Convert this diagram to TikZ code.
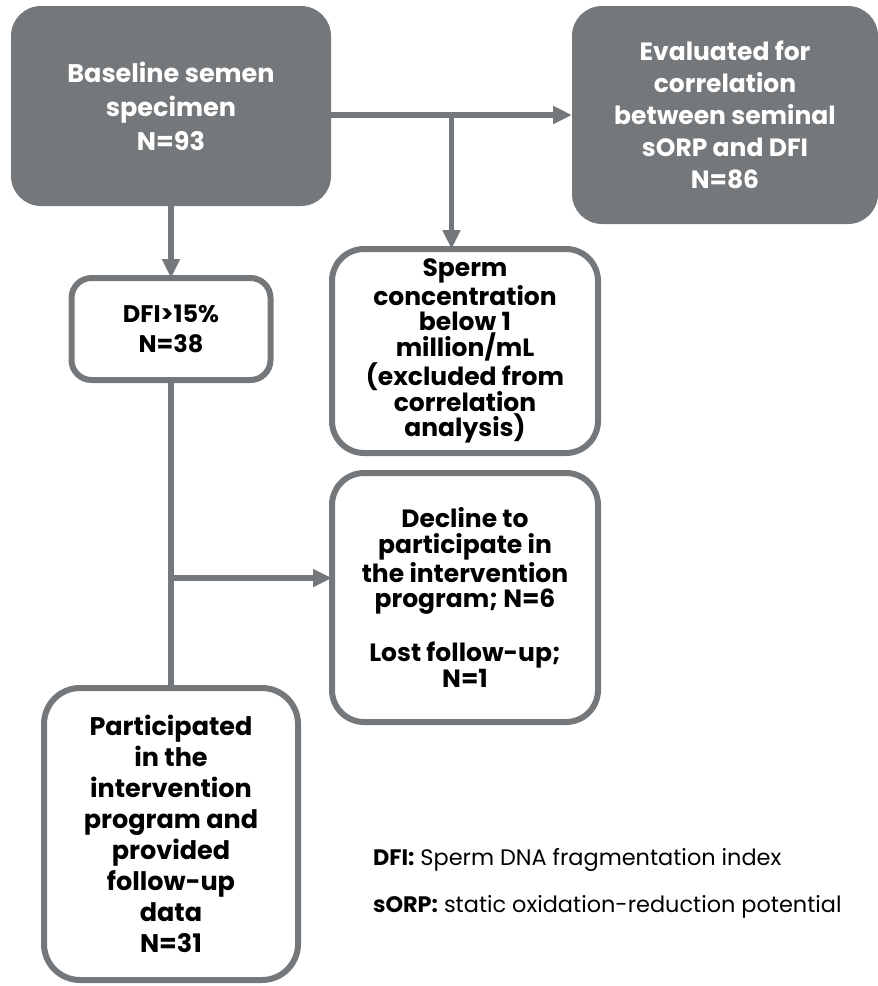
\documentclass[tikz,border=0pt]{standalone}
\usepackage{fontspec}
\setmainfont{Poppins}
\usepackage{tikz}
\usetikzlibrary{positioning}
\usetikzlibrary{arrows.meta}
\usepackage{xcolor}
\definecolor{boxgray}{RGB}{117,120,122}

\begin{document}
\begin{tikzpicture}[
every node/.style = {align=center, inner sep=0pt, outer sep=0pt},
  dark/.style = {fill=boxgray, text=white, rounded corners=15pt, font=\bfseries\fontsize{12.75}{17}\selectfont},
  light/.style = {draw=boxgray, line width=3pt, fill=white, rounded corners=#1, font=\bfseries\fontsize{12.5}{12.75}\selectfont},
  light/.default = 16pt,
  link/.style = {draw=boxgray, line width=2.6pt},
  >={Triangle[length=9.5pt,width=8.5pt]}
]
\useasboundingbox (0,0) rectangle (439pt,-493pt);
\node (1) [dark, minimum width=160pt, minimum height=100pt] at (85.5pt,-53pt) {Baseline semen\\specimen\\N=93};
\node (2) [dark, minimum width=153pt, minimum height=109pt, font=\bfseries\fontsize{12.5}{16}\selectfont,
  right=120.5pt of 1.north east, anchor=north west] {Evaluated for\\correlation\\between seminal\\sORP and DFI\\N=86};
\node (3) [light=10pt, minimum width=99.5pt, minimum height=51pt, font=\bfseries\fontsize{12}{15}\selectfont,
  below=36pt of 1] {DFI>15\%\\N=38};
\node (4) [light, minimum width=133pt, minimum height=102pt] at (232.5pt,-175.5pt) {Sperm\\concentration\\below 1\\million/mL\\(excluded from\\correlation\\analysis)};
\node (5) [light, minimum width=133pt, minimum height=124.5pt, below=10pt of 4] {Decline to\\participate in\\the intervention\\program; N=6\\[12.75pt]Lost follow-up;\\N=1};
\node (6) [light=18pt, minimum width=127pt, minimum height=146pt, font=\bfseries\fontsize{12.75}{15.5}\selectfont,
  below=154pt of 3] {Participated\\in the\\intervention\\program and\\provided\\follow-up\\data\\N=31};
\node (7) [anchor=base west, font=\fontsize{11.2}{13}\selectfont] at (186.5pt,-432.5pt) {\textbf{DFI:} Sperm DNA fragmentation index};
\node (8) [anchor=base west, font=\fontsize{11.2}{13}\selectfont] at (186.5pt,-456pt) {\textbf{sORP:} static oxidation-reduction potential};
% branch points
\path (2.west) -- (2.west -| 1.east) coordinate[pos=0.5] (b1);
\path (3.south) -- (6.north) coordinate[pos=0.643] (b2);
\draw[link, ->] (2.west -| 1.east) -- (2.west);
\draw[link, ->] (b1) -- (b1 |- 4.north);
\draw[link, ->] (1) -- (3);
\draw[link] (3) -- (6);
\draw[link, ->] (b2) -- (b2 -| 5.west);
\end{tikzpicture}
\end{document}
